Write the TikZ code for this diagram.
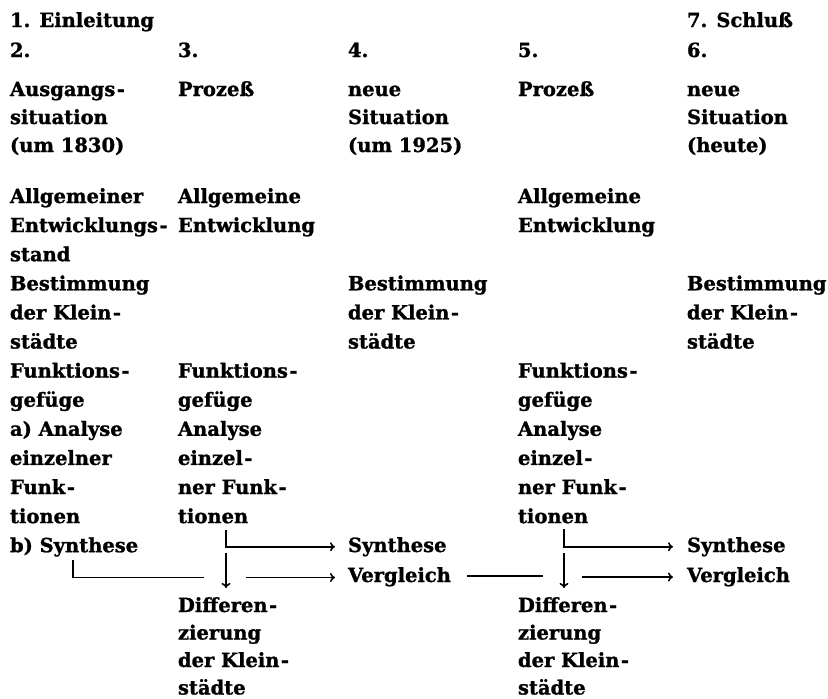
\documentclass[tikz,border=0pt]{standalone}
\usepackage{fontspec}
\setmainfont{DejaVu Serif}[BoldFeatures={FakeBold=1.2}]
\usetikzlibrary{arrows.meta,calc}
\newcommand\hy{\kern1.5pt-}
\newcommand\blk[5]{% name, x, first baseline, spacing, lines
  \foreach \t [count=\i from 0] in {#5} {
    \node[txt] (#1-\i) at (#2,{#3+\i*#4}) {\t};
  }}
\begin{document}
\begin{tikzpicture}[x=1pt,y=-1pt,
  txt/.style={anchor=base west,inner sep=0pt,outer sep=0pt,
    font=\bfseries\fontsize{19.5}{24}\selectfont},
  ln/.style={line width=1.6pt},
  arr/.style={line width=1.6pt,-{To[length=5pt,width=9pt]}}]
\useasboundingbox (0,0) rectangle (828,699);
% column 1
\node[txt] (einl) at (10,27) {1. Einleitung};
\node[txt] (n2) at (10,57) {2.};
\blk{aus}{10}{96}{28}{Ausgangs\hy,situation,(um 1830)}
\blk{c1}{10}{203}{29.1}{Allgemeiner,Entwicklungs\hy,stand,Bestimmung,der Klein\hy,städte,Funktions\hy,gefüge,a) Analyse,einzelner,Funk\hy,tionen,b) Synthese}
% column 2
\node[txt] (n3) at (178,57) {3.};
\node[txt] (pro2) at (178,96) {Prozeß};
\blk{ae2}{178}{203}{29.1}{Allgemeine,Entwicklung}
\blk{fg2}{178}{377.6}{29.1}{Funktions\hy,gefüge,Analyse,einzel\hy,ner Funk\hy,tionen}
\blk{dif2}{178}{612}{27.5}{Differen\hy,zierung,der Klein\hy,städte}
% column 3
\node[txt] (n4) at (348,57) {4.};
\blk{ns3}{348}{96}{28}{neue,Situation,(um 1925)}
\blk{bk3}{348}{290.3}{29.1}{Bestimmung,der Klein\hy,städte}
\node[txt] (syn3) at (348,552) {Synthese};
\node[txt] (ver3) at (348,582) {Vergleich};
% column 4
\node[txt] (n5) at (518,57) {5.};
\node[txt] (pro4) at (518,96) {Prozeß};
\blk{ae4}{518}{203}{29.1}{Allgemeine,Entwicklung}
\blk{fg4}{518}{377.6}{29.1}{Funktions\hy,gefüge,Analyse,einzel\hy,ner Funk\hy,tionen}
\blk{dif4}{518}{612}{27.5}{Differen\hy,zierung,der Klein\hy,städte}
% column 5
\node[txt] (schl) at (687,27) {7. Schluß};
\node[txt] (n6) at (687,57) {6.};
\blk{ns5}{687}{96}{28}{neue,Situation,(heute)}
\blk{bk5}{687}{290.3}{29.1}{Bestimmung,der Klein\hy,städte}
\node[txt] (syn5) at (687,552) {Synthese};
\node[txt] (ver5) at (687,582) {Vergleich};
% connectors, left part
\coordinate (a1) at (73,560);
\coordinate (a2) at (204,577.5);
\draw[ln] (a1) |- (a2);
\coordinate (v2) at (226,530);
\draw[arr,shorten >=13pt] (v2) |- (syn3.west);
\coordinate (d2a) at (226,553);
\coordinate (d2b) at (226,588);
\draw[arr] (d2a) -- (d2b);
\coordinate (h2) at (246,577.5);
\draw[arr,shorten >=13pt] (h2) -- (h2 -| ver3.west);
% connectors, right part
\coordinate (g4a) at (467,576);
\coordinate (g4b) at (543,576);
\draw[ln] (g4a) -- (g4b);
\coordinate (v4) at (564,529);
\draw[arr,shorten >=14pt] (v4) |- (syn5.west);
\coordinate (d4a) at (564,553);
\coordinate (d4b) at (564,588);
\draw[arr] (d4a) -- (d4b);
\coordinate (h4) at (582,577);
\draw[arr,shorten >=14pt] (h4) -- (h4 -| ver5.west);
\end{tikzpicture}
\end{document}
